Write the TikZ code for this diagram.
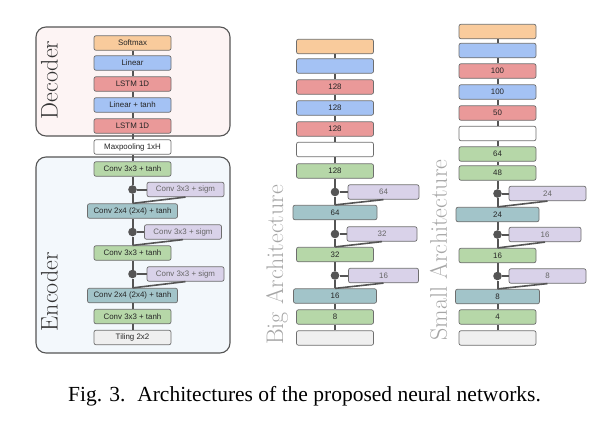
\documentclass[tikz,border=0pt]{standalone}
\usepackage{fontspec}
\newfontfamily\boxfont{Liberation Sans}
\newfontfamily\capfont{Liberation Serif}

\definecolor{cOrange}{HTML}{F9CB9C}
\definecolor{cBlue}{HTML}{A4C2F4}
\definecolor{cRed}{HTML}{EA9999}
\definecolor{cGreen}{HTML}{B6D7A8}
\definecolor{cTeal}{HTML}{A2C4C9}
\definecolor{cPurple}{HTML}{D9D2E9}
\definecolor{cGray}{HTML}{EFEFEF}
\definecolor{decbg}{HTML}{FDF4F4}
\definecolor{encbg}{HTML}{F3F8FC}
\definecolor{edge}{HTML}{6E6E6E}
\definecolor{wire}{HTML}{555555}
\definecolor{titlegray}{HTML}{A6A6A6}

\tikzset{
  layer/.style={draw=edge, rounded corners=2pt, line width=0.7pt,
    minimum width=77pt, minimum height=14.5pt, inner sep=0pt, text=black!85,
    font=\boxfont\fontsize{7.9}{8}\selectfont},
  gate/.style={layer, fill=cPurple, text=black!60},
  num/.style={font=\boxfont\fontsize{9}{10}\selectfont},
  gatedot/.style={circle, fill=wire, inner sep=0pt, minimum size=8.6pt},
  trunk/.style={draw=wire, line width=2pt},
  merge/.style={draw=wire, line width=1.6pt},
  frame/.style={draw=wire, line width=1.1pt, rounded corners=10pt},
  title/.style={rotate=90, inner sep=0pt, font=\fontsize{24}{24}\selectfont}
}

\begin{document}
\begin{tikzpicture}[x=1pt,y=-1pt]
  \useasboundingbox (0,0) rectangle (605,431);

  % Frames round the decoder and the encoder
  \draw[frame, fill=decbg] (36,27) rectangle (230,136);
  \draw[frame, fill=encbg] (36,157) rectangle (230,353);
  \node[title, text=black!80] (dec) at (49.5,80) {Decoder};
  \node[title, text=black!80] (enc) at (49.5,291.5) {Encoder};

  % Left column: the layers
  \node[layer, fill=cOrange] (smax) at (132.5,43) {Softmax};
  \node[layer, fill=cBlue] (lin) at (132.5,63) {Linear};
  \node[layer, fill=cRed] (lstmB) at (132.5,84) {LSTM 1D};
  \node[layer, fill=cBlue] (linT) at (132.5,105) {Linear + tanh};
  \node[layer, fill=cRed] (lstmA) at (132.5,126) {LSTM 1D};
  \node[layer, fill=white] (pool) at (132.5,147) {Maxpooling 1xH};
  \node[layer, fill=cGreen] (convD) at (132.5,169) {Conv 3x3 + tanh};
  \node[gatedot] (dotC) at (132.5,189.5) {};
  \node[gate] (sigC) at (185.5,189.5) {Conv 3x3 + sigm};
  \node[layer, fill=cTeal, minimum width=90pt] (strB) at (132.5,211) {Conv 2x4 (2x4) + tanh};
  \node[gatedot] (dotB) at (132.5,232) {};
  \node[gate] (sigB) at (183,232) {Conv 3x3 + sigm};
  \node[layer, fill=cGreen] (convB) at (132.5,253) {Conv 3x3 + tanh};
  \node[gatedot] (dotA) at (132.5,274) {};
  \node[gate] (sigA) at (185.5,274) {Conv 3x3 + sigm};
  \node[layer, fill=cTeal, minimum width=90pt] (strA) at (132.5,295.5) {Conv 2x4 (2x4) + tanh};
  \node[layer, fill=cGreen] (convA) at (132.5,316.5) {Conv 3x3 + tanh};
  \node[layer, fill=cGray] (tile) at (132.5,337.5) {Tiling 2x2};

  % Big architecture
  \node[title, text=titlegray] (bigT) at (277,265) {Big Architecture};
  \begin{scope}[every node/.append style={num, minimum width=72pt}]
    \node[layer, fill=cOrange] (bsmax) at (335,46.5) {};
    \node[layer, fill=cBlue] (blin) at (335,66) {};
    \node[layer, fill=cRed] (blstmB) at (335,87) {128};
    \node[layer, fill=cBlue] (blinT) at (335,108) {128};
    \node[layer, fill=cRed] (blstmA) at (335,129) {128};
    \node[layer, fill=white] (bpool) at (335,149.5) {};
    \node[layer, fill=cGreen] (bconvD) at (335,171) {128};
    \node[gatedot] (bdotC) at (335,192) {};
    \node[gate, minimum width=71pt] (bsigC) at (383.5,192) {64};
    \node[layer, fill=cTeal, minimum width=84pt] (bstrB) at (335,212.5) {64};
    \node[gatedot] (bdotB) at (335,234) {};
    \node[gate, minimum width=70pt] (bsigB) at (382,234) {32};
    \node[layer, fill=cGreen] (bconvB) at (335,254.5) {32};
    \node[gatedot] (bdotA) at (335,275.5) {};
    \node[gate, minimum width=70pt] (bsigA) at (383.5,275.5) {16};
    \node[layer, fill=cTeal, minimum width=83pt] (bstrA) at (335,296) {16};
    \node[layer, fill=cGreen] (bconvA) at (335,317) {8};
    \node[layer, fill=cGray] (btile) at (335,338) {};
  \end{scope}

  % Small architecture
  \node[title, text=titlegray] (smallT) at (438.5,250) {Small Architecture};
  \begin{scope}[every node/.append style={num, minimum width=71pt}]
    \node[layer, fill=cOrange] (sOut) at (497.5,31.5) {};
    \node[layer, fill=cBlue] (sLin) at (497.5,50.5) {};
    \node[layer, fill=cRed] (sLstmB) at (497.5,71) {100};
    \node[layer, fill=cBlue] (sLinT) at (497.5,92) {100};
    \node[layer, fill=cRed] (sLstmA) at (497.5,113) {50};
    \node[layer, fill=white] (sPool) at (497.5,133.5) {};
    \node[layer, fill=cGreen] (sConvE) at (497.5,154) {64};
    \node[layer, fill=cGreen] (sConvD) at (497.5,173) {48};
    \node[gatedot] (sDotC) at (497.5,193.5) {};
    \node[gate] (sSigC) at (547.5,193.5) {24};
    \node[layer, fill=cTeal, minimum width=83pt] (sStrB) at (497.5,214.5) {24};
    \node[gatedot] (sDotB) at (497.5,234.5) {};
    \node[gate, minimum width=72pt] (sSigB) at (545,234.5) {16};
    \node[layer, fill=cGreen] (sConvB) at (497.5,255.5) {16};
    \node[gatedot] (sDotA) at (497.5,276) {};
    \node[gate] (sSigA) at (547.5,276) {8};
    \node[layer, fill=cTeal, minimum width=84pt] (sStrA) at (497.5,296.5) {8};
    \node[layer, fill=cGreen] (sConvA) at (497.5,317) {4};
    \node[layer, fill=cGray] (sTile) at (497.5,338) {};
  \end{scope}

  % Trunks, bottom to top
  \foreach \a/\b in {tile/convA, convA/strA, strA/dotA, dotA/convB, convB/dotB,
      dotB/strB, strB/dotC, dotC/convD, convD/pool, pool/lstmA, lstmA/linT,
      linT/lstmB, lstmB/lin, lin/smax} {
    \draw[trunk] (\a) -- (\b);
    \draw[trunk] (b\a) -- (b\b);
  }
  \foreach \a/\b in {sTile/sConvA, sConvA/sStrA, sStrA/sDotA, sDotA/sConvB,
      sConvB/sDotB, sDotB/sStrB, sStrB/sDotC, sDotC/sConvD, sConvD/sConvE,
      sConvE/sPool, sPool/sLstmA, sLstmA/sLinT, sLinT/sLstmB, sLstmB/sLin, sLin/sOut}
    \draw[trunk] (\a) -- (\b);

  % Gates: branch out, then merge back into the layer below
  \foreach \g/\m in {A/strA, B/convB, C/strB} {
    \draw[trunk] (dot\g) -- (sig\g);
    \draw[merge] (sig\g.south) -- (\m.north);
    \draw[trunk] (bdot\g) -- (bsig\g);
    \draw[merge] (bsig\g.south) -- (b\m.north);
  }
  \foreach \g/\m in {A/StrA, B/ConvB, C/StrB} {
    \draw[trunk] (sDot\g) -- (sSig\g);
    \draw[merge] (sSig\g.south) -- (s\m.north);
  }

  % Caption
  \node[anchor=base, inner sep=0pt, font=\capfont\fontsize{21.5}{22}\selectfont] (caption)
    at (304.5,401) {Fig. 3.\hspace{0.55em}Architectures of the proposed neural networks.};
\end{tikzpicture}
\end{document}
